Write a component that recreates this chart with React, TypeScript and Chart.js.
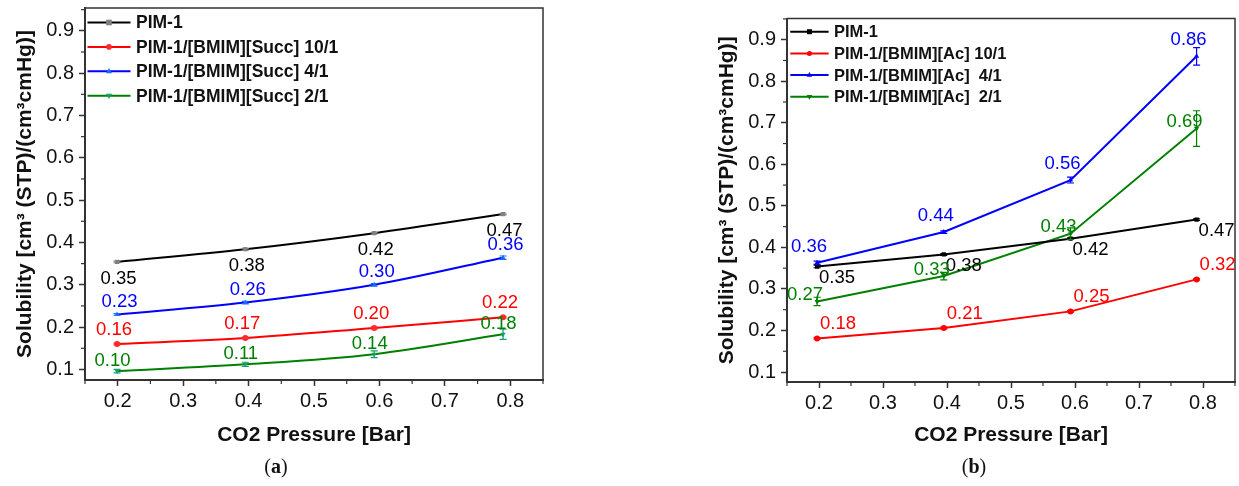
import React, { useEffect, useRef } from "react";
import { Chart, registerables } from "chart.js";
Chart.register(...registerables);

// ---------------- data ----------------
const xTickValues = [0.2, 0.3, 0.4, 0.5, 0.6, 0.7, 0.8];
const yTickValues = [0.1, 0.2, 0.3, 0.4, 0.5, 0.6, 0.7, 0.8, 0.9];
const xTitle = "CO2 Pressure [Bar]";
const yTitle = "Solubility [cm³ (STP)/(cm³cmHg)]";

// panel (a)
const pressureA = [0.199, 0.395, 0.592, 0.789];
const pim1A = [0.354, 0.384, 0.422, 0.467];
const succ10A = [0.16, 0.174, 0.198, 0.223];
const succ4A = [0.23, 0.258, 0.3, 0.364];
const succ2A = [0.096, 0.112, 0.136, 0.183];
const pim1ErrA = [0.002, 0.002, 0.002, 0.002];
const succ10ErrA = [0.002, 0.002, 0.002, 0.002];
const succ4ErrA = [0.002, 0.003, 0.003, 0.004];
const succ2ErrA = [0.004, 0.005, 0.008, 0.012];
const legendA = [
  "PIM-1",
  "PIM-1/[BMIM][Succ] 10/1",
  "PIM-1/[BMIM][Succ] 4/1",
  "PIM-1/[BMIM][Succ] 2/1",
];

// panel (b)
const pressureB = [0.197, 0.395, 0.593, 0.79];
const pim1B = [0.354, 0.383, 0.421, 0.467];
const ac10B = [0.181, 0.206, 0.246, 0.323];
const ac4B = [0.363, 0.437, 0.562, 0.86];
const ac2B = [0.27, 0.331, 0.433, 0.686];
const pim1ErrB = [0.003, 0.002, 0.002, 0.002];
const ac10ErrB = [0.002, 0.002, 0.002, 0.002];
const ac4ErrB = [0.004, 0.003, 0.007, 0.021];
const ac2ErrB = [0.01, 0.009, 0.014, 0.043];
const legendB = [
  "PIM-1",
  "PIM-1/[BMIM][Ac] 10/1",
  "PIM-1/[BMIM][Ac]  4/1",
  "PIM-1/[BMIM][Ac]  2/1",
];

// ---------------- styles ----------------
const FONT = "'Liberation Sans', Arial, sans-serif";
const AXIS = "#333333";

type Shape = "rect" | "circle" | "triangle" | "down";
type SeriesStyle = {
  line: string;
  marker: string;
  text: string;
  err: string;
  shape: Shape;
  dx: number;
  dy: number;
  align: CanvasTextAlign;
};

type PanelSpec = {
  key: string;
  x: number[];
  series: number[][];
  errors: number[][];
  names: string[];
  styles: SeriesStyle[];
  canvasLeft: number;
  canvasWidth: number;
  canvasHeight: number;
  yAxisWidth: number;
  xAxisHeight: number;
  padTop: number;
  padRight: number;
  yTitlePad: number;
  xMin: number;
  xMax: number;
  yMin: number;
  yMax: number;
  smooth: boolean;
  legend: { x0: number; x1: number; tx: number; y0: number; gap: number; size: number; r: number };
};

const stylesA: SeriesStyle[] = [
  { line: "#000000", marker: "#808080", text: "#000000", err: "#808080", shape: "rect", dx: 1.5, dy: 17, align: "center" },
  { line: "#ff0000", marker: "#ff2a2a", text: "#ff0000", err: "#ff2a2a", shape: "circle", dx: -3, dy: -14.5, align: "center" },
  { line: "#0000ff", marker: "#1a6cff", text: "#0000ff", err: "#1a6cff", shape: "triangle", dx: 2.5, dy: -12.4, align: "center" },
  { line: "#008000", marker: "#12a070", text: "#008000", err: "#12a070", shape: "down", dx: -4.5, dy: -10.5, align: "center" },
];

const stylesB: SeriesStyle[] = [
  { line: "#000000", marker: "#000000", text: "#000000", err: "#000000", shape: "rect", dx: 2, dy: 11.5, align: "left" },
  { line: "#ff0000", marker: "#ff0000", text: "#ff0000", err: "#ff0000", shape: "circle", dx: 3, dy: -14.5, align: "left" },
  { line: "#0000ff", marker: "#0000ff", text: "#0000ff", err: "#0000ff", shape: "triangle", dx: -8, dy: -16, align: "center" },
  { line: "#008000", marker: "#008000", text: "#008000", err: "#008000", shape: "down", dx: -12, dy: -6.5, align: "center" },
];

const panelA: PanelSpec = {
  key: "a",
  x: pressureA,
  series: [pim1A, succ10A, succ4A, succ2A],
  errors: [pim1ErrA, succ10ErrA, succ4ErrA, succ2ErrA],
  names: legendA,
  styles: stylesA,
  canvasLeft: 0,
  canvasWidth: 560,
  canvasHeight: 460,
  yAxisWidth: 85,
  xAxisHeight: 80,
  padTop: 8,
  padRight: 17,
  yTitlePad: 12.5,
  xMin: 0.15,
  xMax: 0.85,
  yMin: 0.075,
  yMax: 0.954,
  smooth: true,
  legend: { x0: 2.5, x1: 45.5, tx: 51, y0: 14.5, gap: 24.4, size: 17.5, r: 2.8 },
};

const panelB: PanelSpec = {
  key: "b",
  x: pressureB,
  series: [pim1B, ac10B, ac4B, ac2B],
  errors: [pim1ErrB, ac10ErrB, ac4ErrB, ac2ErrB],
  names: legendB,
  styles: stylesB,
  canvasLeft: 680,
  canvasWidth: 559,
  canvasHeight: 460,
  yAxisWidth: 107,
  xAxisHeight: 78,
  padTop: 18.5,
  padRight: 4,
  yTitlePad: 34.5,
  xMin: 0.15,
  xMax: 0.85,
  yMin: 0.076,
  yMax: 0.951,
  smooth: false,
  legend: { x0: 3.3, x1: 41.6, tx: 47, y0: 13.2, gap: 21.7, size: 16.5, r: 2.5 },
};

function drawShape(ctx: CanvasRenderingContext2D, shape: Shape, x: number, y: number, r: number, color: string) {
  ctx.fillStyle = color;
  ctx.beginPath();
  if (shape === "rect") {
    ctx.rect(x - r, y - r, 2 * r, 2 * r);
  } else if (shape === "circle") {
    ctx.arc(x, y, r, 0, Math.PI * 2);
  } else if (shape === "triangle") {
    ctx.moveTo(x, y - r * 1.2);
    ctx.lineTo(x + r * 1.1, y + r * 0.7);
    ctx.lineTo(x - r * 1.1, y + r * 0.7);
    ctx.closePath();
  } else {
    ctx.moveTo(x, y + r * 1.2);
    ctx.lineTo(x + r * 1.1, y - r * 0.7);
    ctx.lineTo(x - r * 1.1, y - r * 0.7);
    ctx.closePath();
  }
  ctx.fill();
}

function makeOverlay(spec: PanelSpec) {
  return {
    id: "overlay_" + spec.key,
    afterDraw(chart: any) {
      const ctx: CanvasRenderingContext2D = chart.ctx;
      const area = chart.chartArea;
      const xs = chart.scales.x;
      const ys = chart.scales.y;
      ctx.save();
      // frame (top + right)
      ctx.strokeStyle = AXIS;
      ctx.lineWidth = 1.5;
      ctx.beginPath();
      ctx.moveTo(area.left, area.top);
      ctx.lineTo(area.right, area.top);
      ctx.lineTo(area.right, area.bottom);
      ctx.stroke();

      // minor ticks
      ctx.lineWidth = 1.2;
      const xMinor = xTickValues.map((v) => v - 0.05).concat([xTickValues[xTickValues.length - 1] + 0.05]);
      for (const v of xMinor) {
        if (v < xs.min - 1e-9 || v > xs.max + 1e-9) continue;
        const px = xs.getPixelForValue(v);
        ctx.beginPath();
        ctx.moveTo(px, area.bottom);
        ctx.lineTo(px, area.bottom + 4);
        ctx.stroke();
      }
      const yMinor = yTickValues.map((v) => v + 0.05);
      for (const v of yMinor) {
        if (v < ys.min - 1e-9 || v > ys.max + 1e-9) continue;
        const py = ys.getPixelForValue(v);
        ctx.beginPath();
        ctx.moveTo(area.left - 4, py);
        ctx.lineTo(area.left, py);
        ctx.stroke();
      }

      // error bars
      chart.data.datasets.forEach((ds: any, i: number) => {
        const st = spec.styles[i];
        const errs = spec.errors[i];
        ctx.strokeStyle = st.err;
        ctx.lineWidth = 1.2;
        ds.data.forEach((pt: any, j: number) => {
          const e = errs[j];
          const px = xs.getPixelForValue(pt.x);
          const y1 = ys.getPixelForValue(pt.y - e);
          const y2 = ys.getPixelForValue(pt.y + e);
          ctx.beginPath();
          ctx.moveTo(px, y1);
          ctx.lineTo(px, y2);
          ctx.moveTo(px - 3.5, y1);
          ctx.lineTo(px + 3.5, y1);
          ctx.moveTo(px - 3.5, y2);
          ctx.lineTo(px + 3.5, y2);
          ctx.stroke();
        });
      });

      // value labels
      ctx.font = `18.5px ${FONT}`;
      ctx.textBaseline = "middle";
      chart.data.datasets.forEach((_ds: any, i: number) => {
        const st = spec.styles[i];
        const meta = chart.getDatasetMeta(i);
        ctx.fillStyle = st.text;
        ctx.textAlign = st.align;
        meta.data.forEach((el: any, j: number) => {
          ctx.fillText(spec.series[i][j].toFixed(2), el.x + st.dx, el.y + st.dy);
        });
      });

      // legend
      const lg = spec.legend;
      ctx.font = `bold ${lg.size}px ${FONT}`;
      ctx.textAlign = "left";
      ctx.textBaseline = "middle";
      spec.names.forEach((name, i) => {
        const st = spec.styles[i];
        const y = area.top + lg.y0 + lg.gap * i;
        ctx.strokeStyle = st.line;
        ctx.lineWidth = 2;
        ctx.beginPath();
        ctx.moveTo(area.left + lg.x0, y);
        ctx.lineTo(area.left + lg.x1, y);
        ctx.stroke();
        drawShape(ctx, st.shape, area.left + (lg.x0 + lg.x1) / 2, y, lg.r, st.marker);
        ctx.fillStyle = "#111111";
        ctx.fillText(name, area.left + lg.tx, y + 1);
      });
      ctx.restore();
    },
  };
}

function makeConfig(spec: PanelSpec): any {
  const datasets = spec.series.map((vals, i) => {
    const st = spec.styles[i];
    return {
      label: spec.names[i],
      data: spec.x.map((x, j) => ({ x, y: vals[j] })),
      borderColor: st.line,
      backgroundColor: st.marker,
      borderWidth: 2,
      pointStyle: st.shape === "rect" ? "rect" : st.shape === "circle" ? "circle" : "triangle",
      rotation: st.shape === "down" ? 180 : 0,
      pointRadius: 3,
      pointBorderWidth: 0,
      pointBackgroundColor: st.marker,
      pointBorderColor: st.marker,
      tension: 0,
      cubicInterpolationMode: spec.smooth ? "monotone" : "default",
    };
  });
  return {
    type: "line",
    data: { datasets },
    options: {
      animation: false,
      responsive: false,
      devicePixelRatio: 1,
      layout: { padding: { left: 0, top: spec.padTop, right: spec.padRight, bottom: 0 } },
      plugins: { legend: { display: false }, tooltip: { enabled: false } },
      scales: {
        x: {
          type: "linear",
          min: spec.xMin,
          max: spec.xMax,
          afterBuildTicks: (s: any) => {
            s.ticks = xTickValues.map((v) => ({ value: v }));
          },
          afterFit: (s: any) => {
            s.height = spec.xAxisHeight;
            s.paddingLeft = 0;
            s.paddingRight = 0;
          },
          ticks: {
            autoSkip: false,
            maxRotation: 0,
            padding: 3,
            color: "#111111",
            font: { family: FONT, size: 20 },
            callback: (v: any) => Number(v).toFixed(1),
          },
          grid: { display: true, drawOnChartArea: false, drawTicks: true, tickLength: 6, tickWidth: 1.5, tickColor: AXIS },
          border: { display: true, color: AXIS, width: 2 },
          title: {
            display: true,
            text: xTitle,
            color: "#111111",
            font: { family: FONT, size: 21, weight: "bold" },
            padding: { top: 0, bottom: 12 },
          },
        },
        y: {
          type: "linear",
          min: spec.yMin,
          max: spec.yMax,
          afterBuildTicks: (s: any) => {
            s.ticks = yTickValues.map((v) => ({ value: v }));
          },
          afterFit: (s: any) => {
            s.width = spec.yAxisWidth;
            s.paddingTop = 0;
            s.paddingBottom = 0;
          },
          ticks: {
            autoSkip: false,
            padding: 5,
            color: "#111111",
            font: { family: FONT, size: 20 },
            callback: (v: any) => Number(v).toFixed(1),
          },
          grid: { display: true, drawOnChartArea: false, drawTicks: true, tickLength: 6, tickWidth: 1.5, tickColor: AXIS },
          border: { display: true, color: AXIS, width: 2 },
          title: {
            display: true,
            text: yTitle,
            color: "#111111",
            font: { family: FONT, size: 21, weight: "bold" },
            padding: { top: spec.yTitlePad, bottom: 0 },
          },
        },
      },
    },
    plugins: [makeOverlay(spec)],
  };
}

function PanelChart({ spec }: { spec: PanelSpec }) {
  const ref = useRef<HTMLCanvasElement>(null);
  useEffect(() => {
    const chart = new Chart(ref.current as HTMLCanvasElement, makeConfig(spec));
    return () => chart.destroy();
  }, [spec]);
  return (
    <canvas
      ref={ref}
      width={spec.canvasWidth}
      height={spec.canvasHeight}
      style={{
        position: "absolute",
        left: spec.canvasLeft,
        top: 0,
        width: spec.canvasWidth,
        height: spec.canvasHeight,
      }}
    />
  );
}

function Caption({ letter, center }: { letter: string; center: number }) {
  return (
    <div
      style={{
        position: "absolute",
        left: center,
        top: 454,
        transform: "translateX(-50%)",
        fontFamily: "'Liberation Serif', 'DejaVu Serif', serif",
        fontSize: 20,
        lineHeight: "24px",
        color: "#111",
        whiteSpace: "nowrap",
      }}
    >
      (<b>{letter}</b>)
    </div>
  );
}

export default function App() {
  return (
    <div
      style={{
        position: "absolute",
        left: 0,
        top: 0,
        width: 1239,
        height: 486,
        background: "#ffffff",
        overflow: "hidden",
      }}
    >
      <PanelChart spec={panelA} />
      <PanelChart spec={panelB} />
      <Caption letter="a" center={276} />
      <Caption letter="b" center={974} />
    </div>
  );
}
